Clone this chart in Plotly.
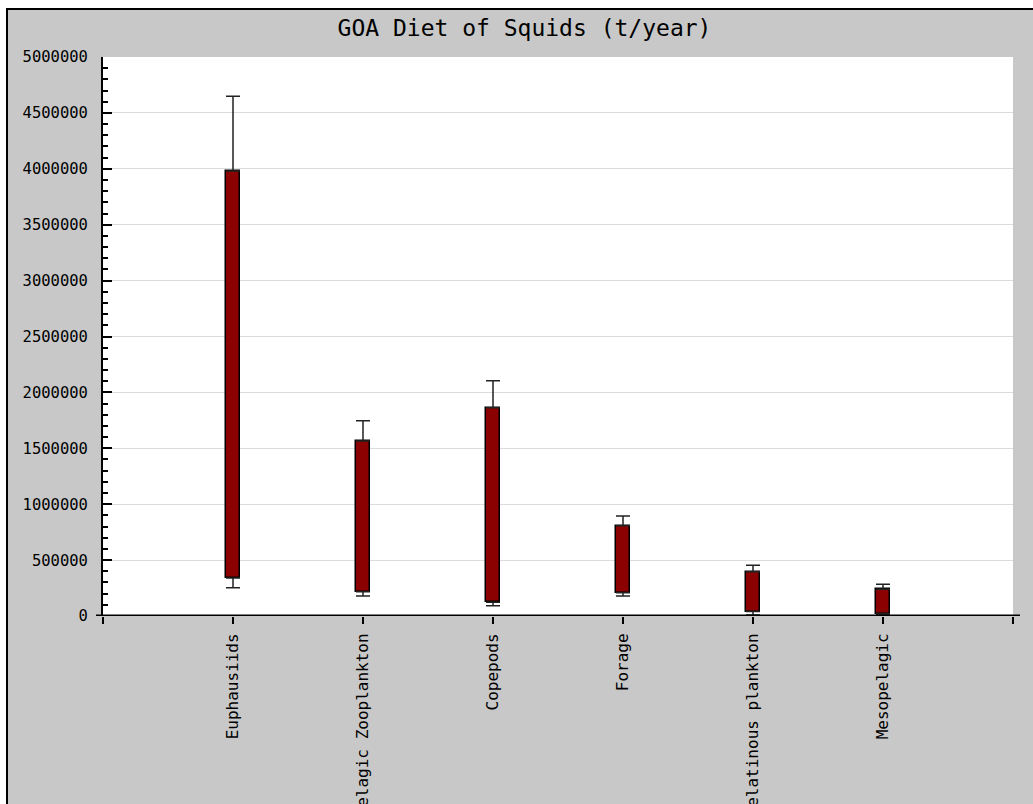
import plotly.graph_objects as go

# Prey groups and the annual consumption range for each (t/year)
categories = ["Euphausiids", "Pelagic Zooplankton", "Copepods", "Forage",
              "Gelatinous plankton", "Mesopelagic"]
box_low = [340000, 217000, 122000, 208000, 40000, 22000]
box_high = [3980000, 1565000, 1863000, 808000, 396000, 239000]
whisker_low = [253000, 179000, 92000, 179000, 10000, 8000]
whisker_high = [4648000, 1747000, 2105000, 894000, 453000, 283000]

y_ticks = list(range(0, 5000001, 500000))

positions = list(range(1, len(categories) + 1))

# Figure geometry in pixels
W, H = 1033, 804
L, R, T, B = 103, 20, 57, 188
PW = W - L - R
PH = H - T - B


def px_x(px):
    return (px - L) / PW


def px_y(py):
    return (H - B - py) / PH


MONO = "DejaVu Sans Mono"
BAR_W = 0.105

fig = go.Figure()

# Floating boxes spanning the central range
fig.add_trace(go.Bar(
    x=positions,
    y=[h - l for h, l in zip(box_high, box_low)],
    base=box_low,
    width=BAR_W,
    marker=dict(color="#8b0000", line=dict(color="black", width=1.5)),
    showlegend=False,
))

# Upper whiskers from the top of each box
fig.add_trace(go.Scatter(
    x=positions, y=box_high, mode="markers",
    marker=dict(size=1, color="rgba(0,0,0,0)"),
    error_y=dict(type="data", symmetric=False,
                 array=[w - h for w, h in zip(whisker_high, box_high)],
                 arrayminus=[0] * len(positions),
                 color="#222222", thickness=1.5, width=7),
    showlegend=False,
))

# Lower whiskers from the bottom of each box
fig.add_trace(go.Scatter(
    x=positions, y=box_low, mode="markers",
    marker=dict(size=1, color="rgba(0,0,0,0)"),
    error_y=dict(type="data", symmetric=False,
                 array=[0] * len(positions),
                 arrayminus=[l - w for l, w in zip(box_low, whisker_low)],
                 color="#222222", thickness=1.5, width=7),
    showlegend=False,
))

shapes = [
    # white margin around the framed panel
    dict(type="rect", xref="paper", yref="paper", layer="above",
         x0=px_x(-20), x1=px_x(6), y0=px_y(H + 20), y1=px_y(-20),
         fillcolor="white", line=dict(width=0)),
    dict(type="rect", xref="paper", yref="paper", layer="above",
         x0=px_x(-20), x1=px_x(W + 20), y0=px_y(8), y1=px_y(-20),
         fillcolor="white", line=dict(width=0)),
    # frame border
    dict(type="line", xref="paper", yref="paper", layer="above",
         x0=px_x(7), x1=px_x(7), y0=px_y(8), y1=px_y(H + 20),
         line=dict(color="black", width=2)),
    dict(type="line", xref="paper", yref="paper", layer="above",
         x0=px_x(6), x1=px_x(W + 20), y0=px_y(9), y1=px_y(9),
         line=dict(color="black", width=2)),
    # heavy baseline at zero
    dict(type="line", xref="paper", yref="y", layer="above",
         x0=px_x(96), x1=px_x(1020), y0=0, y1=0,
         line=dict(color="black", width=3)),
]

fig.update_layout(
    width=W, height=H,
    margin=dict(l=L, r=R, t=T, b=B, pad=0),
    template="none",
    paper_bgcolor="#c8c8c8",
    plot_bgcolor="white",
    title=dict(text="GOA Diet of Squids (t/year)",
               font=dict(family=MONO, size=23, color="black"),
               x=524.5 / W, xanchor="center",
               y=1 - 28 / H, yanchor="middle"),
    shapes=shapes,
    showlegend=False,
    bargap=0,
)

fig.update_xaxes(
    type="linear", range=[0, 7],
    tickmode="array",
    tickvals=[0] + positions + [7],
    ticktext=[""] + categories + [""],
    tickangle=-90,
    ticks="outside", ticklen=7, tickwidth=1.5, tickcolor="black",
    ticklabelstandoff=3,
    tickfont=dict(family=MONO, size=16, color="black"),
    showgrid=False, zeroline=False, showline=False,
    automargin=False, fixedrange=True,
)

fig.update_yaxes(
    range=[0, 5000000],
    tickmode="array", tickvals=y_ticks,
    ticktext=[str(v) for v in y_ticks],
    ticks="inside", ticklen=9, tickwidth=1.5, tickcolor="black",
    ticklabelstandoff=10,
    tickfont=dict(family=MONO, size=15.5, color="black"),
    minor=dict(dtick=100000, tick0=0, ticks="inside", ticklen=5,
               tickwidth=1.5, tickcolor="black", showgrid=False),
    showgrid=True, gridcolor="#dcdcdc", gridwidth=1,
    showline=True, linecolor="black", linewidth=2,
    zeroline=False, automargin=False, fixedrange=True,
)

fig.write_html("out.html")
